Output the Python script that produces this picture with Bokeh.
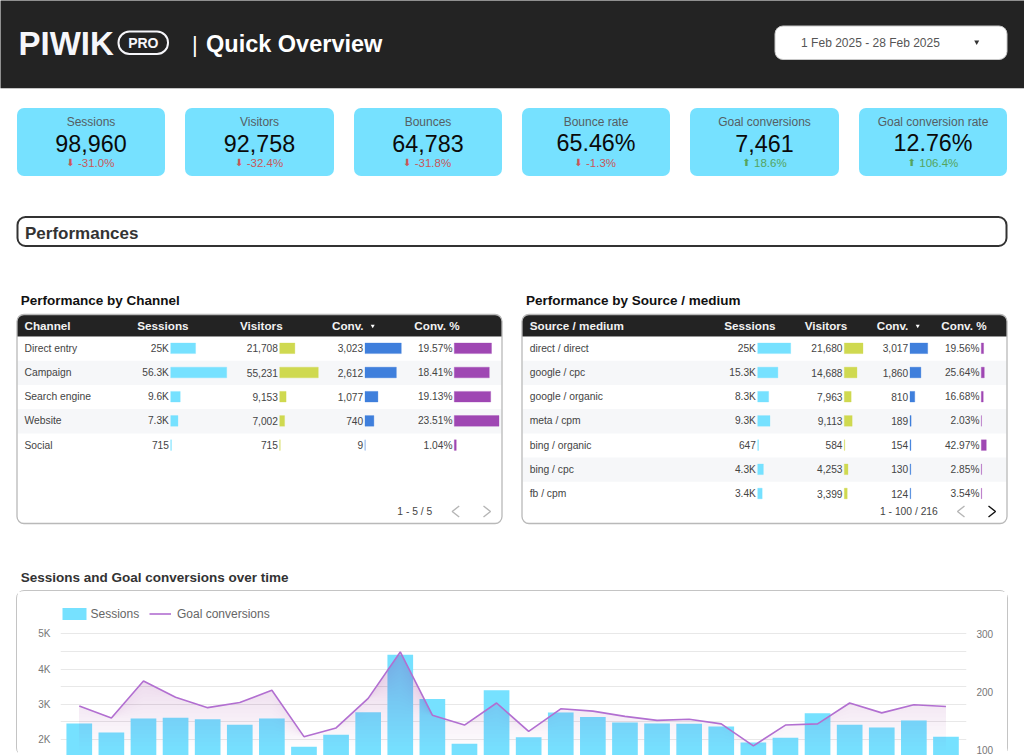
from bokeh.plotting import figure
from bokeh.layouts import column
from bokeh.models import (Range1d, BoxAnnotation, LinearAxis, FixedTicker, Legend, LegendItem)
from bokeh.core.properties import value
from bokeh.embed import file_html
from bokeh.resources import INLINE
import numpy as np

# ---------- data ----------
kpi_names = ["Sessions", "Visitors", "Bounces", "Bounce rate", "Goal conversions", "Goal conversion rate"]
kpi_values = ["98,960", "92,758", "64,783", "65.46%", "7,461", "12.76%"]
kpi_deltas = ["-31.0%", "-32.4%", "-31.8%", "-1.3%", "18.6%", "106.4%"]

channel_names = ["Direct entry", "Campaign", "Search engine", "Website", "Social"]
channel_sessions = [25000, 56300, 9600, 7300, 715]
channel_visitors = [21708, 55231, 9153, 7002, 715]
channel_conv = [3023, 2612, 1077, 740, 9]
channel_rate = [19.57, 18.41, 19.13, 23.51, 1.04]

source_names = ["direct / direct", "google / cpc", "google / organic", "meta / cpm", "bing / organic", "bing / cpc", "fb / cpm"]
source_sessions = [25000, 15300, 8300, 9300, 647, 4300, 3400]
source_visitors = [21680, 14688, 7963, 9113, 584, 4253, 3399]
source_conv = [3017, 1860, 810, 189, 154, 130, 124]
source_rate = [19.56, 25.64, 16.68, 2.03, 42.97, 2.85, 3.54]

days = list(range(1, 29))
daily_sessions = [2454, 2199, 2596, 2615, 2577, 2416, 2596, 1792, 2132, 2776, 4413, 3155, 1877, 3401,
                  2066, 2766, 2643, 2483, 2454, 2445, 2369, 1915, 2047, 2748, 2416, 2341, 2539, 2076]
daily_goals = [176, 155, 219, 191, 173, 182, 203, 123, 138, 189, 269, 160, 143, 181,
               132, 171, 167, 158, 151, 153, 145, 107, 143, 145, 181, 164, 178, 175]
left_ticks = [2000, 3000, 4000, 5000]
left_tick_labels = ["2K", "3K", "4K", "5K"]
right_ticks = [100, 200, 300]

# ---------- styles ----------
FONT = "Liberation Sans"
CYAN, LIME, BLUE, PURPLE = "#76e1ff", "#cfd950", "#3f7fdc", "#9f47b3"
DARK = "#232323"
W, H_TOP, H_BOTTOM = 1024, 585, 164
PAGE_L, PAGE_R, PAGE_T, PAGE_B = 0.5, 1024.5, 0.5, 585.5

top = figure(width=W, height=H_TOP, output_backend="svg", toolbar_location=None,
             x_range=Range1d(PAGE_L, PAGE_R), y_range=Range1d(PAGE_B, PAGE_T),
             x_axis_type=None, y_axis_type=None, min_border=0, outline_line_color=None, frame_align=False)
top.grid.visible = False
top.extra_y_ranges["rows"] = Range1d(start=(PAGE_B - 348.3) / 24.2, end=(PAGE_T - 348.3) / 24.2)


def box(l, r, t, b, fill=None, line=None, lw=1.0, radius=0):
    top.add_layout(BoxAnnotation(left=l, right=r, top=t, bottom=b, fill_color=fill, fill_alpha=1 if fill else 0,
                                 line_color=line, line_width=lw, line_alpha=1 if line else 0,
                                 border_radius=radius, level="underlay", editable=False))


def text(x, y, s, size, color="#444444", bold=False, align="left", font=FONT):
    top.text(x=[x], y=[y], text=[s], text_font=value(font), text_font_size=f"{size}px", text_color=color,
             text_font_style="bold" if bold else "normal", text_align=align, text_baseline="middle")


def chevron(x, y, d, color):
    top.line(x=[x - d * 3.5, x + d * 3.5, x - d * 3.5], y=[y - 5.5, y, y + 5.5], line_color=color, line_width=1.4)


# header
box(PAGE_L - 1, PAGE_R + 1, PAGE_T - 1, 88, fill=DARK)
box(PAGE_L - 1, PAGE_R + 1, 88, 89, fill="#c4c4c4")
text(18.5, 43, "PIWIK", 33, "#f6f6fa", True)
box(118.5, 168, 31.5, 54, line="#f6f6fa", lw=2, radius=11)
text(143.3, 43.2, "PRO", 14, "#f6f6fa", True, "center")
text(192, 44, "|", 22, "#ffffff")
text(206, 43.5, "Quick Overview", 23.5, "#ffffff", True)
box(775, 1007, 26, 59.5, fill="#ffffff", line="#c8c8c8", lw=1, radius=8)
text(870.5, 42.5, "1 Feb 2025 - 28 Feb 2025", 12, "#555555", False, "center")
top.scatter(x=[976.7], y=[42], marker="inverted_triangle", size=5, fill_color="#333333", line_color=None)

# KPI cards
card_l = [17, 185, 354, 522, 690, 859]
card_r = [165, 334, 502, 670, 839, 1007]
delta_left = [78, 246.7, 414.7, 586, 754, 919.3]
for name, val, delta, l, r, dl in zip(kpi_names, kpi_values, kpi_deltas, card_l, card_r, delta_left):
    cx = (l + r) / 2
    box(l, r, 108, 176, fill=CYAN, radius=7)
    text(cx, 121.5, name, 12, "#555e63", False, "center")
    text(cx, 143, val, 23.3, "#0a0a0a", False, "center")
    col = "#c9575a" if delta.startswith("-") else "#55a45e"
    text(dl, 162.5, delta, 11.5, col)
    text(dl - 7.5, 162.8, "\u2b07" if delta.startswith("-") else "\u2b06", 10, col, False, "center", "DejaVu Sans")

# section box
box(17.5, 1006.5, 217, 246, fill="#ffffff", line="#333333", lw=2, radius=8)
text(25, 233, "Performances", 17, "#333333", True)

text(20.7, 300.7, "Performance by Channel", 13.5, "#111111", True)
text(526, 300.7, "Performance by Source / medium", 13.5, "#111111", True)
text(20.7, 577.3, "Sessions and Goal conversions over time", 13.5, "#333333", True)


def short(v):
    if v < 1000:
        return str(v)
    s = f"{v / 1000:.1f}"
    return (s[:-2] if s.endswith(".0") else s) + "K"


def commas(v):
    return f"{v:,}"


def pct(v):
    return f"{v:.2f}%"


def table(tag, l, r, names, name_x, cols, headers, caret_x, pager, pager_x, pager_next):
    box(l, r, 314.5, 523.5, fill="#ffffff")
    for i in range(1, len(names), 2):
        box(l + 0.5, r - 0.5, 360.7 + (i - 1) * 24.2, 385 + (i - 1) * 24.2, fill="#f6f7f9")
    box(l, r, 314.5, 336.7, fill=DARK, radius=(7, 7, 0, 0))
    box(l, r, 336.3, 337, fill="#aaaaaa")
    box(l, r, 314.5, 523.5, line="#b9b9b9", lw=1.3, radius=7)
    for hx, h in headers:
        text(hx, 325.7, h, 11.7, "#f2f2f2", True)
    top.scatter(x=[caret_x], y=[325.9], marker="inverted_triangle", size=4, fill_color="#ffffff", line_color=None)
    ys = list(range(len(names)))
    top.text(x=[name_x] * len(names), y=ys, text=names, y_range_name="rows", text_font=value(FONT),
             text_font_size="10.3px", text_color="#444444", text_baseline="middle")
    for j, (vals, fmt, color, x0, scale) in enumerate(cols):
        rng = f"{tag}{j}"
        top.extra_x_ranges[rng] = Range1d((PAGE_L - x0) / scale, (PAGE_R - x0) / scale)
        top.hbar(y=ys, left=[0] * len(vals), right=vals, height=0.44, x_range_name=rng, y_range_name="rows",
                 fill_color=color, line_color=color, line_alpha=0.3, line_width=1)
        top.text(x=[0] * len(vals), y=ys, text=[fmt(v) for v in vals], x_range_name=rng, y_range_name="rows",
                 x_offset=-1.8, text_font=value(FONT), text_font_size="10.2px", text_color="#444444",
                 text_align="right", text_baseline="middle")
    text(pager_x, 511.3, pager, 10.3, "#444444")
    chevron(pager_next[0], 511.5, -1, "#b5b5b5")
    chevron(pager_next[1], 511.5, 1, pager_next[2])


table("c", 17, 502, channel_names, 24.5,
      [(channel_sessions, short, CYAN, 170.7, 56 / 56300),
       (channel_visitors, commas, LIME, 279.7, 38.6 / 55231),
       (channel_conv, commas, BLUE, 365, 36.3 / 3023),
       (channel_rate, pct, PURPLE, 454.3, 44.7 / 23.51)],
      [(24.5, "Channel"), (137.3, "Sessions"), (240, "Visitors"), (332, "Conv."), (414.3, "Conv. %")],
      372.7, "1 - 5 / 5", 397.3, (455.7, 487, "#b5b5b5"))
table("s", 522, 1007, source_names, 529.7,
      [(source_sessions, short, CYAN, 757.7, 33 / 25000),
       (source_visitors, commas, LIME, 844.3, 18.7 / 21680),
       (source_conv, commas, BLUE, 910, 17.7 / 3017),
       (source_rate, pct, PURPLE, 981.3, 5 / 42.97)],
      [(529.7, "Source / medium"), (724.3, "Sessions"), (804.7, "Visitors"), (876.7, "Conv."), (941.3, "Conv. %")],
      917.7, "1 - 100 / 216", 880, (961, 992, "#111111"))

# ---------- time chart ----------
bottom = figure(width=990, height=H_BOTTOM, output_backend="svg", toolbar_location=None,
                x_range=Range1d(0.415, 28.64), y_range=Range1d(1545, 6208),
                x_axis_type=None, min_border_left=43, min_border_right=41, min_border_top=0, min_border_bottom=0,
                outline_line_color=None, y_axis_location=None, frame_align=False,
                margin=(6, 17, 0, 17),
                styles={"outline": "1.5px solid #c4c4c4", "outline-offset": "-0.5px", "border-radius": "7px"})
bottom.xgrid.visible = False
bottom.ygrid.ticker = FixedTicker(ticks=list(range(2000, 5001, 500)))
bottom.ygrid.grid_line_color = "#e8e8e8"
bottom.ygrid.grid_line_width = 1
bottom.extra_y_ranges["goals"] = Range1d(90.5, 373.3)

laxis = LinearAxis(ticker=FixedTicker(ticks=left_ticks),
                   major_label_overrides=dict(zip(left_ticks, left_tick_labels)))
raxis = LinearAxis(y_range_name="goals", ticker=FixedTicker(ticks=right_ticks))
for ax, st in ((laxis, 10), (raxis, 10)):
    ax.axis_line_color = None
    ax.major_tick_line_color = None
    ax.minor_tick_line_color = None
    ax.major_tick_in = 0
    ax.major_tick_out = 0
    ax.major_label_standoff = st
    ax.major_label_text_font = FONT
    ax.major_label_text_font_size = "10px"
    ax.major_label_text_color = "#777777"
bottom.add_layout(laxis, "left")
bottom.add_layout(raxis, "right")

bars = bottom.vbar(x=days, top=daily_sessions, bottom=0, width=0.8, fill_color=CYAN, line_color=None)
goals = np.array(daily_goals, dtype=float)
for level in np.arange(100, 272, 7.0):
    bottom.varea(x=days, y1=np.minimum(goals, level), y2=goals, y_range_name="goals",
                 fill_color=PURPLE, fill_alpha=0.011)
line = bottom.line(x=days, y=daily_goals, y_range_name="goals", line_color="#b26fd1", line_width=1.6)

LEG = dict(orientation="horizontal", margin=0, padding=0, border_line_color=None, glyph_height=15,
           background_fill_alpha=0, label_text_font=FONT, label_text_font_size="12px", label_text_color="#666666")
bottom.add_layout(Legend(items=[LegendItem(label="Sessions", renderers=[bars])], location=(-1.5, 134),
                         glyph_width=30, label_standoff=2, **LEG))
bottom.add_layout(Legend(items=[LegendItem(label="Goal conversions", renderers=[line])], location=(89, 134),
                         glyph_width=22, label_standoff=6, **LEG))

page = column(top, bottom, spacing=0)
open("out.html", "w").write(file_html(page, INLINE))
